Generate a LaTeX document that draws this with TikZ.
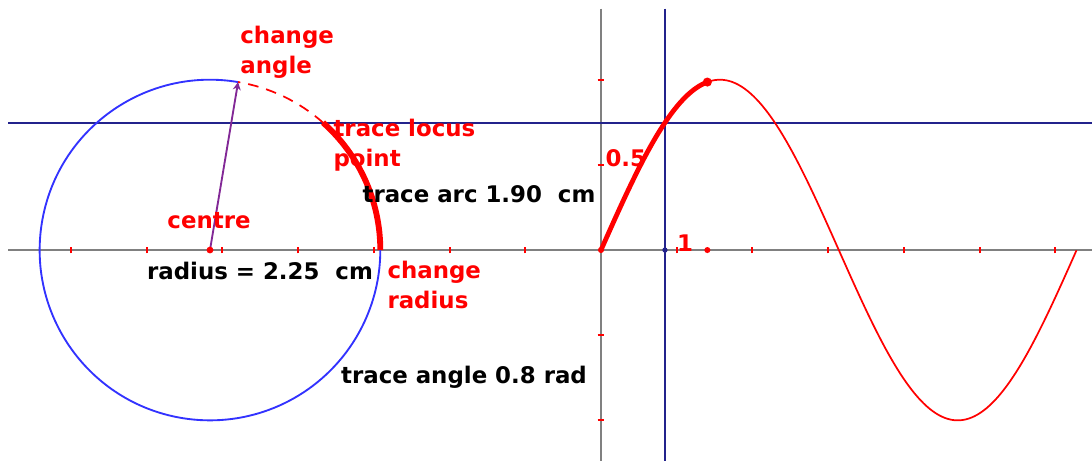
\documentclass[tikz,border=0pt]{standalone}
\usepackage{fontspec}
\setmainfont{DejaVu Sans}
\definecolor{navy}{RGB}{35,35,140}
\definecolor{circblue}{RGB}{50,50,255}
\definecolor{radpurple}{RGB}{130,40,150}
\definecolor{axisgrey}{RGB}{128,128,128}
\usetikzlibrary{arrows.meta}

\begin{document}
\begin{tikzpicture}[
  lbl/.style={font=\bfseries\fontsize{8.6}{11.2}\selectfont, align=left, inner sep=0pt},
  redlbl/.style={lbl, text=red},
  axis/.style={axisgrey, line width=0.8pt},
  tick/.style={red, line width=0.75pt},
  cross/.style={navy, line width=0.75pt},
  circ/.style={circblue, line width=0.7pt},
  trace/.style={red, line width=2.2pt},
  curve/.style={red, line width=0.65pt},
  dot/.style={red}
]
\useasboundingbox (-7.939,-2.787) rectangle (6.486,3.303);
\def\r{2.25}
\def\ta{1.405}% change angle (rad)
\def\tp{0.845}% trace angle (rad)

\coordinate (centre) at (-5.165,0);
\coordinate (O) at (0,0);
\path (centre) ++({deg(\ta)}:\r) coordinate (hdl);
\path (centre) ++({deg(\tp)}:\r) coordinate (locus);
\path (centre) ++(0:\r) coordinate (rim);
\coordinate (gtop) at (\ta,{\r*sin(\ta r)});
\coordinate (gfoot) at (\ta,0);
\coordinate (cfoot) at (\tp,0);

% axes and ticks
\draw[axis] (-7.83,0) -- (6.486,0);
\draw[axis] (0,3.19) -- (0,-2.787);
\foreach \i in {-7,...,-1,1,2,...,6}
  \draw[tick] (\i,-0.045) -- (\i,0.045);
\foreach \j in {-2.25,-1.125,1.125,2.25}
  \draw[tick] (-0.045,\j) -- (0.045,\j);

% cross hairs through the traced point
\draw[cross] (-7.83,{\r*sin(\tp r)}) -- (6.486,{\r*sin(\tp r)});
\draw[cross] (\tp,3.19) -- (\tp,-2.787);

% circle
\draw[circ] (hdl) arc[start angle={deg(\ta)}, end angle=360, radius=\r];
\draw[curve, dash pattern=on 4pt off 3pt] (locus) arc[start angle={deg(\tp)}, end angle={deg(\ta)}, radius=\r];
\draw[trace] (rim) arc[start angle=0, end angle={deg(\tp)}, radius=\r];
\draw[radpurple, line width=0.7pt, -{Stealth[length=3pt,width=3pt]}] (centre) -- (hdl);

% graph
\draw[curve] plot[domain=0:2*pi, samples=160, variable=\x] (\x,{\r*sin(\x r)});
\draw[red, line width=1.8pt, line cap=round] plot[domain=0:\ta, samples=40, variable=\x] (\x,{\r*sin(\x r)});
\fill[dot] (gtop) circle (0.06);
\fill[dot] (gfoot) circle (0.04);
\fill[dot] (O) circle (0.04);
\fill[navy] (cfoot) circle (0.035);
\fill[dot] (centre) circle (0.045);

% labels
\node[redlbl, anchor=west] (angle) at (-4.77,2.616) {change\\angle};
\node[redlbl, anchor=west] (point) at (-3.54,1.387) {trace locus\\point};
\node[redlbl] (ctr) at (-5.178,0.383) {centre};
\node[redlbl, anchor=west] (radius) at (-2.827,-0.462) {change\\radius};
\node[redlbl, anchor=west] (half) at (0.053,1.215) {0.5};
\node[redlbl] (one) at (1.11,0.092) {1};
\node[lbl] (arc) at (-1.612,0.740) {trace arc 1.90\ \ cm};
\node[lbl] (rlen) at (-4.505,-0.277) {radius = 2.25\ \ cm};
\node[lbl] (ang) at (-1.810,-1.678) {trace angle 0.8 rad};
\end{tikzpicture}
\end{document}
